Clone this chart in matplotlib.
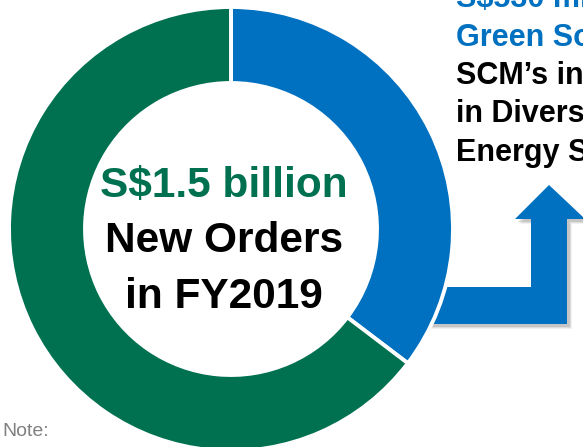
import numpy as np
import matplotlib
matplotlib.use('Agg')
import matplotlib.pyplot as plt
from matplotlib.patches import Polygon

plt.rcParams['font.family'] = ['Liberation Sans', 'DejaVu Sans']

# new orders FY2019 (S$ million)
segments = ['Green Solutions', 'Other orders']
orders = [530, 970]
seg_colors = ['#0070C0', '#007150']

center_lines = ['S$1.5 billion', 'New Orders', 'in FY2019']
center_colors = ['#007150', 'black', 'black']
side_lines = ['S$530 million', 'Green Solutions', 'SCM\u2019s investments',
              'in Diversified', 'Energy Solutions']
side_colors = ['#0070C0', '#0070C0', 'black', 'black', 'black']

W, H = 583, 447
fig = plt.figure(figsize=(W / 100, H / 100), dpi=100)
ax = fig.add_axes([0, 0, 1, 1])

# arrow (pixel coords, y downwards) -> flipped to data
arrow_px = [(420, 287), (531, 287), (531, 219), (515, 219), (549, 185),
            (585, 219), (567, 219), (567, 324), (420, 324)]
arrow = np.array([(x, H - y) for x, y in arrow_px], dtype=float)
for off, a in [(5, 0.08), (4, 0.12), (3, 0.18)]:
    ax.add_patch(Polygon(arrow + [off, -off], closed=True, color='#555555',
                         alpha=a, lw=0, zorder=1))
ax.add_patch(Polygon(arrow, closed=True, color='#0070C0', lw=0, zorder=2))

cx, cy = 231, H - 229
wedges, _ = ax.pie(orders, colors=seg_colors, startangle=90, counterclock=False,
                   center=(cx, cy), radius=222,
                   wedgeprops=dict(width=76, edgecolor='white', linewidth=2.8))
for w in wedges:
    w.set_zorder(3)

for i, (t, c) in enumerate(zip(center_lines, center_colors)):
    ax.text(224, H - (197 + 55.5 * i), t, color=c, fontsize=30.5,
            fontweight='bold', ha='center', va='baseline', zorder=4)

for i, (t, c) in enumerate(zip(side_lines, side_colors)):
    ax.text(456, H - (7.5 + 38.3 * i), t, color=c, fontsize=22,
            fontweight='bold', ha='left', va='baseline', zorder=4)

ax.text(2, H - 436, 'Note:', color='#808080', fontsize=14, ha='left',
        va='baseline', zorder=4)

ax.set_xlim(0, W)
ax.set_ylim(0, H)
ax.set_aspect('auto')
ax.axis('off')
fig.savefig('out.png', dpi=100)
